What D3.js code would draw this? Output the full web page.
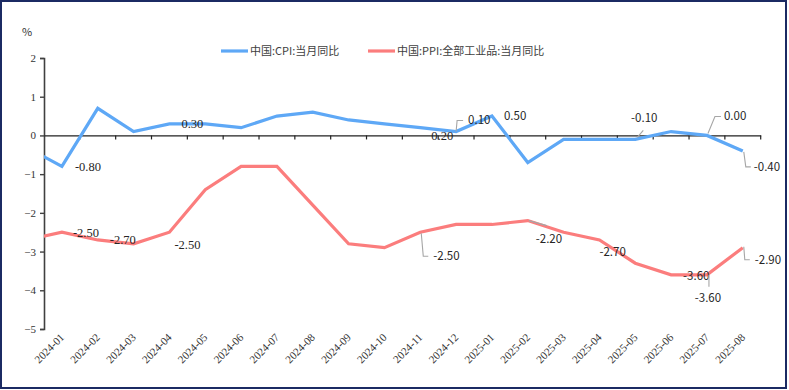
<!DOCTYPE html>
<html><head><meta charset="utf-8">
<script src="https://cdn.jsdelivr.net/npm/d3@7"></script>
<style>
html,body{margin:0;padding:0;background:#fff;}
svg{display:block;}
</style>
</head><body>
<svg id="c" width="789" height="390"></svg>
<script>
// ---------------- data ----------------
const categories = ["2024-01","2024-02","2024-03","2024-04","2024-05","2024-06","2024-07","2024-08","2024-09","2024-10","2024-11","2024-12","2025-01","2025-02","2025-03","2025-04","2025-05","2025-06","2025-07","2025-08"];
// value of the month before the first category (line enters from the left edge)
const priorMonth = "2023-12";
const cpiPrior = -0.3;
const ppiPrior = -2.7;
const cpiValues = [-0.8,0.7,0.1,0.3,0.3,0.2,0.5,0.6,0.4,0.3,0.2,0.1,0.5,-0.7,-0.1,-0.1,-0.1,0.1,0.0,-0.4];
const ppiValues = [-2.5,-2.7,-2.8,-2.5,-1.4,-0.8,-0.8,-1.8,-2.8,-2.9,-2.5,-2.3,-2.3,-2.2,-2.5,-2.7,-3.3,-3.6,-3.6,-2.9];
const seriesNames = ["中国:CPI:当月同比","中国:PPI:全部工业品:当月同比"];
const yTicks = [2,1,0,-1,-2,-3,-4,-5];
const yUnit = "%";

// labelled points (series, month index) and label layout
const labelLayout = [
  {s:0,i:0,  dx:13, dy:0,  anchor:"start", serif:true},
  {s:0,i:3,  dx:12, dy:0,  anchor:"start", serif:true},
  {s:0,i:10, dx:11, dy:8,  anchor:"start", serif:true},
  {s:0,i:11, dx:12, dy:-12, anchor:"start", leader:[[0,0],[1,-11],[7,-11]]},
  {s:0,i:12, dx:12, dy:-0.5, anchor:"start"},
  {s:0,i:16, dx:9,  dy:-21, anchor:"middle", leader:[[2,-2],[8,-9]]},
  {s:0,i:18, dx:17, dy:-19, anchor:"start", leader:[[1,-2],[8,-19],[14,-19]]},
  {s:0,i:19, dx:11, dy:16, anchor:"start", leader:[[1,1],[3,16],[8,16]]},
  {s:1,i:0,  dx:11, dy:0,  anchor:"start", serif:true},
  {s:1,i:1,  dx:12, dy:0,  anchor:"start", serif:true},
  {s:1,i:3,  dx:5,  dy:12, anchor:"start", serif:true},
  {s:1,i:10, dx:13, dy:24, anchor:"start", leader:[[1,1],[3,24],[8,24]]},
  {s:1,i:13, dx:8,  dy:18, anchor:"start", leader:[[1,0],[19,5]]},
  {s:1,i:15, dx:0,  dy:12, anchor:"start"},
  {s:1,i:17, dx:12, dy:1,  anchor:"start"},
  {s:1,i:18, dx:1,  dy:23.5, anchor:"middle", leader:[[2,0],[2,12]]},
  {s:1,i:19, dx:12, dy:12, anchor:"start", leader:[[1,-1],[2,12],[7,12]]}
];

// ---------------- layout ----------------
const W = 789, H = 390;
const plot = {left:44, right:760.7, top:58, bottom:329};
const colors = ["#5ea8f6","#fb7d7d"];
const serifFont = "'Liberation Serif','Times New Roman',serif";
const sansFont = "'Noto Sans CJK SC','Noto Sans',sans-serif";

const svg = d3.select("#c");

// outer border
svg.append("rect").attr("x",1).attr("y",1).attr("width",W-4).attr("height",H-3)
  .attr("fill","#fff").attr("stroke","#1b2a63").attr("stroke-width",2);

const x = d3.scaleBand().domain(categories).range([plot.left, plot.right]).padding(0);
const bw = x.bandwidth();
const xc = d => x(d) + bw/2;
const y = d3.scaleLinear().domain([-5,2]).range([plot.bottom, plot.top]);

// clip
svg.append("defs").append("clipPath").attr("id","clip")
  .append("rect").attr("x",plot.left).attr("y",0).attr("width",plot.right-plot.left).attr("height",H);

// y axis
const yAxis = d3.axisLeft(y).tickValues(yTicks).tickSize(4).tickFormat(d3.format("d"));
const gy = svg.append("g").attr("transform",`translate(${plot.left},0)`).call(yAxis);
gy.select(".domain").attr("stroke","#404040").attr("stroke-width",1.6);
gy.selectAll(".tick line").attr("stroke","#404040").attr("stroke-width",1.4);
gy.selectAll(".tick text").attr("font-family",serifFont).attr("font-size",11).attr("fill","#333").attr("x",-8);

// x axis on zero line
const xAxis = d3.axisBottom(x).tickSize(0).tickFormat("");
const gx = svg.append("g").attr("transform",`translate(0,${y(0)})`).call(xAxis);
gx.select(".domain").attr("stroke","#222").attr("stroke-width",1.2);
// tick marks at category boundaries
gx.selectAll(".bound").data(categories).enter().append("line").attr("class","bound")
  .attr("x1",d=>x(d)+bw).attr("x2",d=>x(d)+bw).attr("y1",0).attr("y2",4)
  .attr("stroke","#222").attr("stroke-width",1.2);

// x tick labels at bottom, rotated
svg.append("g").selectAll("text").data(categories).enter().append("text")
  .attr("transform",d=>`translate(${xc(d)+3},${plot.bottom+9}) rotate(-45)`)
  .attr("text-anchor","end").attr("font-family",serifFont).attr("font-size",11)
  .attr("fill","#333").text(d=>d);

// unit
svg.append("text").attr("x",22).attr("y",36).attr("font-family",sansFont).attr("font-size",11)
  .attr("fill","#333").text(yUnit);

// lines
const series = [
  [{m:priorMonth,v:cpiPrior}].concat(categories.map((c,i)=>({m:c,v:cpiValues[i]}))),
  [{m:priorMonth,v:ppiPrior}].concat(categories.map((c,i)=>({m:c,v:ppiValues[i]})))
];
const px = d => d.m===priorMonth ? xc(categories[0]) - bw : xc(d.m);
const line = d3.line().x(px).y(d=>y(d.v));
const gl = svg.append("g").attr("clip-path","url(#clip)");
series.forEach((s,k)=>{
  gl.append("path").datum(s).attr("d",line).attr("fill","none")
    .attr("stroke",colors[k]).attr("stroke-width",3.2).attr("stroke-linejoin","miter");
});

// labels
const gLab = svg.append("g");
const vals = [cpiValues, ppiValues];
labelLayout.forEach(L=>{
  const v = vals[L.s][L.i];
  const X = xc(categories[L.i]), Y = y(v);
  if (L.leader){
    gLab.append("path").attr("d", d3.line()(L.leader.map(p=>[X+p[0],Y+p[1]])))
      .attr("fill","none").attr("stroke","#a6a6a6").attr("stroke-width",1.1);
  }
  gLab.append("text").attr("x",X+L.dx).attr("y",Y+L.dy).attr("dy","0.35em")
    .attr("text-anchor",L.anchor)
    .attr("font-family", L.serif ? serifFont : sansFont)
    .attr("font-size", L.serif ? 12.5 : 11.5).attr("fill","#262626")
    .text(v.toFixed(2));
});

// legend
const legend = [{x:221, name:seriesNames[0]},{x:368, name:seriesNames[1]}];
legend.forEach((l,k)=>{
  svg.append("line").attr("x1",l.x).attr("x2",l.x+27).attr("y1",51).attr("y2",51)
    .attr("stroke",colors[k]).attr("stroke-width",3.2);
  svg.append("text").attr("x",l.x+29).attr("y",51).attr("dy","0.35em")
    .attr("font-family",sansFont).attr("font-size",11).attr("fill","#404040").text(l.name);
});
</script>
</body></html>
